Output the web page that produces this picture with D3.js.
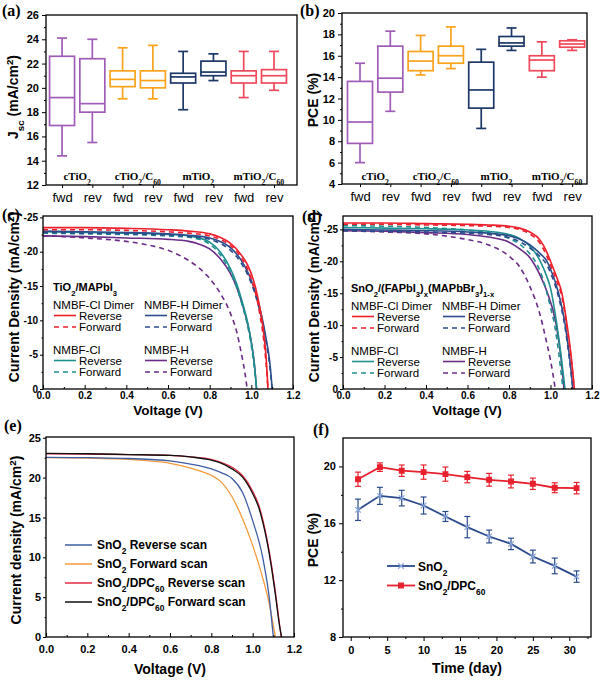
<!DOCTYPE html>
<html><head><meta charset="utf-8">
<script src="https://cdnjs.cloudflare.com/ajax/libs/d3/7.8.5/d3.min.js"></script>
<style>body{margin:0;background:#fff}</style>
</head><body>
<script>
// ================= DATA =================
// (a)/(b) box plots
const boxTicks = ["fwd","rev","fwd","rev","fwd","rev","fwd","rev"];
const boxGroups = ["cTiO_{2}","cTiO_{2}/C_{60}","mTiO_{2}","mTiO_{2}/C_{60}"];
const boxColors = ["#9f5db7","#f9a31c","#1d3868","#ef4a5c"];

const jscMin = [14.4,15.5,19.1,19.1,18.2,20.6,19.2,19.8];
const jscQ1  = [16.9,18.0,20.1,20.0,20.4,21.0,20.4,20.4];
const jscMed = [19.2,18.7,20.7,20.6,20.9,21.3,21.0,21.0];
const jscQ3  = [22.6,22.4,21.4,21.4,21.2,22.2,21.4,21.5];
const jscMax = [24.1,24.0,23.3,23.5,23.0,22.8,23.0,23.0];

const pceMin = [6.0,10.8,14.2,14.8,9.2,16.5,14.0,16.5];
const pceQ1  = [7.8,12.6,14.6,15.3,11.1,16.9,14.6,16.8];
const pceMed = [9.8,13.9,15.5,16.0,12.8,17.2,15.6,17.1];
const pceQ3  = [13.6,16.9,16.4,16.9,15.4,17.8,16.0,17.4];
const pceMax = [15.3,18.3,17.9,18.7,16.6,18.6,17.3,17.5];

// (c) TiO2/MAPbI3 J-V curves
const cClDimerV   = [0,0.2,0.4,0.6,0.7,0.8,0.85,0.9,0.95,0.98,1.0,1.02,1.04,1.06,1.07,1.08];
const cClDimerRev = [-23.5,-23.5,-23.4,-23.2,-23.0,-22.6,-22.1,-21.2,-19.6,-18.2,-16.8,-14.8,-12.0,-8.0,-5.0,0];
const cClDimerFwd = [-23.2,-23.2,-23.1,-22.9,-22.7,-22.3,-21.8,-20.9,-19.2,-17.6,-16.0,-14.0,-11.0,-7.0,-4.0,0];
const cHDimerV    = [0,0.2,0.4,0.6,0.7,0.8,0.85,0.9,0.95,0.98,1.0,1.03,1.05,1.07,1.09,1.1];
const cHDimerRev  = [-23.0,-22.9,-22.8,-22.6,-22.4,-22.0,-21.5,-20.6,-18.8,-17.2,-15.8,-13.0,-10.6,-7.5,-3.5,0];
const cHDimerFwd  = [-22.8,-22.7,-22.6,-22.4,-22.2,-21.8,-21.2,-20.2,-18.4,-16.8,-15.4,-12.6,-10.2,-7.0,-3.0,0];
const cClV        = [0,0.2,0.4,0.6,0.7,0.75,0.8,0.85,0.9,0.93,0.96,0.98,1.0,1.015,1.025];
const cClRev      = [-22.9,-22.8,-22.7,-22.5,-22.3,-22.0,-21.4,-20.0,-17.5,-15.3,-12.3,-10.0,-6.8,-3.5,0];
const cClFwd      = [-22.7,-22.6,-22.5,-22.3,-22.1,-21.8,-21.1,-19.6,-17.0,-14.8,-11.8,-9.5,-6.3,-3.0,0];
const cHRevV      = [0,0.2,0.4,0.6,0.7,0.75,0.8,0.85,0.9,0.93,0.96,0.98,1.0,1.015,1.025];
const cHRev       = [-22.3,-22.2,-22.0,-21.8,-21.5,-21.1,-20.4,-19.0,-16.8,-14.8,-12.0,-9.8,-6.8,-3.5,0];
const cHFwdV      = [0,0.1,0.2,0.3,0.4,0.5,0.6,0.7,0.75,0.8,0.85,0.9,0.93,0.95,0.97,0.98];
const cHFwd       = [-22.3,-22.2,-22.0,-21.8,-21.5,-21.0,-20.2,-18.7,-17.6,-16.1,-14.0,-11.0,-8.3,-5.5,-2.2,0];

// (d) SnO2/(FAPbI3)x(MAPbBr3)1-x J-V curves
const dClDimerV   = [0,0.2,0.4,0.6,0.7,0.8,0.85,0.9,0.95,0.98,1.0,1.03,1.055,1.08,1.1,1.115];
const dClDimerRev = [-26.0,-26.0,-25.9,-25.8,-25.7,-25.5,-25.2,-24.6,-23.3,-21.6,-20.0,-17.5,-15.0,-10.0,-5.0,0];
const dClDimerFwd = [-25.8,-25.8,-25.7,-25.6,-25.5,-25.3,-25.0,-24.3,-22.8,-21.0,-19.4,-16.9,-14.4,-9.5,-4.6,0];
const dHDimerV    = [0,0.2,0.4,0.6,0.7,0.8,0.85,0.9,0.95,0.983,1.0,1.039,1.071,1.09,1.108];
const dHDimerRev  = [-25.0,-24.9,-24.8,-24.6,-24.4,-24.0,-23.5,-22.6,-21.2,-20.0,-18.8,-15.0,-10.0,-5.5,0];
const dHDimerFwd  = [-24.8,-24.7,-24.6,-24.4,-24.2,-23.7,-23.1,-22.1,-20.7,-19.4,-18.2,-14.4,-9.5,-5.0,0];
const dClRevV     = [0,0.2,0.4,0.6,0.7,0.8,0.85,0.9,0.951,0.98,1.0,1.031,1.05,1.07];
const dClRev      = [-25.3,-25.2,-25.1,-24.9,-24.7,-24.2,-23.6,-22.4,-20.0,-17.8,-15.8,-10.0,-5.5,0];
const dClFwdV     = [0,0.2,0.4,0.6,0.7,0.8,0.85,0.9,0.927,0.96,1.0,1.02,1.04,1.06];
const dClFwd      = [-25.6,-25.5,-25.3,-24.9,-24.5,-23.6,-22.7,-21.2,-20.0,-17.6,-12.8,-10.0,-5.5,0];
const dHRevV      = [0,0.2,0.4,0.6,0.7,0.8,0.85,0.9,0.95,0.98,1.028,1.05,1.065];
const dHRev       = [-24.8,-24.7,-24.5,-24.2,-23.8,-23.0,-22.0,-20.6,-17.8,-15.5,-10.0,-5.0,0];
const dHFwdV      = [0,0.2,0.4,0.6,0.7,0.8,0.85,0.9,0.95,0.98,1.0,1.023];
const dHFwd       = [-24.8,-24.6,-24.3,-23.4,-22.6,-20.8,-19.2,-16.1,-11.6,-7.5,-4.5,0];

// (e) SnO2 vs SnO2/DPC60 J-V
const eSnRevV  = [0,0.2,0.4,0.6,0.7,0.8,0.85,0.9,0.95,1.0,1.05,1.08,1.1];
const eSnRev   = [22.55,22.5,22.4,22.1,21.7,21.1,20.6,19.9,18.2,14.6,9.8,5.0,0];
const eSnFwdV  = [0,0.2,0.4,0.5,0.6,0.7,0.75,0.8,0.85,0.9,0.95,1.0,1.05,1.08,1.11];
const eSnFwd   = [22.5,22.45,22.3,22.1,21.8,21.2,20.8,20.3,19.4,17.6,14.9,11.5,7.3,4.2,0];
const eDpcRevV = [0,0.2,0.4,0.6,0.7,0.8,0.85,0.9,0.95,1.0,1.03,1.05,1.07,1.09,1.11,1.13,1.138];
const eDpcRev  = [23.0,22.95,22.9,22.8,22.6,22.3,21.9,21.3,20.3,18.3,16.5,14.6,12.2,9.2,5.6,1.6,0];
const eDpcFwdV = [0,0.2,0.4,0.6,0.7,0.8,0.85,0.9,0.95,1.0,1.03,1.05,1.07,1.09,1.11,1.13,1.14];
const eDpcFwd  = [23.05,23.0,22.9,22.8,22.6,22.2,21.8,21.1,20.1,18.0,16.2,14.3,11.9,8.9,5.3,1.4,0];

// (f) stability
const days     = [1,4,7,10,13,16,19,22,25,28,31];
const pceSnO2  = [16.95,17.93,17.77,17.25,16.48,15.73,15.07,14.55,13.66,13.0,12.25];
const errSnO2  = [0.75,0.6,0.55,0.6,0.35,0.75,0.45,0.4,0.45,0.55,0.4];
const pceDpc   = [19.1,19.95,19.7,19.6,19.46,19.25,19.06,18.94,18.78,18.5,18.47];
const errDpc   = [0.5,0.3,0.4,0.5,0.5,0.4,0.45,0.45,0.4,0.35,0.4];

// ================= DRAWING =================
const svg = d3.select("body").append("svg").attr("width",600).attr("height",680).style("background","#fff");
const SANS = "Arial, 'Liberation Sans', Helvetica, sans-serif";
const SERIF = "'Times New Roman', 'Liberation Serif', serif";

function rich(t, s){
  s.split(/(_\{[^}]*\}|\^\{[^}]*\})/).filter(p=>p.length).forEach(p=>{
    if (p.startsWith("_{")) t.append("tspan").attr("baseline-shift","sub").attr("font-size","70%").text(p.slice(2,-1));
    else if (p.startsWith("^{")) t.append("tspan").attr("baseline-shift","super").attr("font-size","70%").text(p.slice(2,-1));
    else t.append("tspan").text(p);
  });
  return t;
}
function txt(x,y,s,size,weight,family,anchor){
  const t = svg.append("text").attr("x",x).attr("y",y).attr("fill","#000")
    .style("font-family",family||SANS).style("font-size",size+"px").style("font-weight",weight||"normal")
    .attr("text-anchor",anchor||"start");
  return rich(t,s);
}
function styleAxis(g,size,weight){
  g.select(".domain").remove();
  g.selectAll(".tick line").attr("stroke","#000").attr("stroke-width",1);
  g.selectAll(".tick text").attr("fill","#000").style("font-family",SANS).style("font-size",size+"px").style("font-weight",weight);
}
function frame(l,r,t,b){
  svg.append("rect").attr("x",l).attr("y",t).attr("width",r-l).attr("height",b-t)
    .attr("fill","none").attr("stroke","#000").attr("stroke-width",1.3);
}
function yTitle(x,y,s,size){
  const t = svg.append("text").attr("transform",`translate(${x},${y}) rotate(-90)`).attr("text-anchor","middle")
    .attr("dy","0.35em").attr("fill","#000").style("font-family",SANS).style("font-size",size+"px").style("font-weight","bold");
  rich(t,s);
}
function panelLabel(x,y,s){ txt(x,y,s,16,"bold",SERIF); }

function leftAxis(l,y,major,minor,fmt,size,weight,tick,pad){
  svg.append("g").attr("transform",`translate(${l},0)`)
    .call(d3.axisLeft(y).tickValues(major).tickSize(tick).tickPadding(pad).tickFormat(fmt))
    .call(g=>styleAxis(g,size,weight));
  if (minor) svg.append("g").attr("transform",`translate(${l},0)`)
    .call(d3.axisLeft(y).tickValues(minor).tickSize(tick/2).tickFormat(""))
    .call(g=>styleAxis(g,size,weight));
}
function bottomAxis(b,x,major,minor,fmt,size,weight,tick,pad){
  svg.append("g").attr("transform",`translate(0,${b})`)
    .call(d3.axisBottom(x).tickValues(major).tickSize(tick).tickPadding(pad).tickFormat(fmt))
    .call(g=>styleAxis(g,size,weight));
  if (minor) svg.append("g").attr("transform",`translate(0,${b})`)
    .call(d3.axisBottom(x).tickValues(minor).tickSize(tick/2).tickFormat(""))
    .call(g=>styleAxis(g,size,weight));
}

// ---------- box panels ----------
function boxPanel(o){
  const x = d3.scaleLinear().domain(o.xDom).range([o.l,o.r]);
  const y = d3.scaleLinear().domain(o.yDom).range([o.b,o.t]);
  const idx = d3.range(8);
  const g = svg.append("g");
  idx.forEach(i=>{
    const cx = x(i+1), col = boxColors[Math.floor(i/2)], bw = 25, cw = 5;
    const gg = g.append("g").attr("stroke",col).attr("stroke-width",1.7).attr("fill","none");
    gg.append("line").attr("x1",cx).attr("x2",cx).attr("y1",y(o.max[i])).attr("y2",y(o.q3[i]));
    gg.append("line").attr("x1",cx).attr("x2",cx).attr("y1",y(o.q1[i])).attr("y2",y(o.min[i]));
    gg.append("line").attr("x1",cx-cw).attr("x2",cx+cw).attr("y1",y(o.max[i])).attr("y2",y(o.max[i]));
    gg.append("line").attr("x1",cx-cw).attr("x2",cx+cw).attr("y1",y(o.min[i])).attr("y2",y(o.min[i]));
    gg.append("rect").attr("x",cx-bw/2).attr("width",bw).attr("y",y(o.q3[i])).attr("height",y(o.q1[i])-y(o.q3[i]));
    gg.append("line").attr("x1",cx-bw/2).attr("x2",cx+bw/2).attr("y1",y(o.med[i])).attr("y2",y(o.med[i]));
  });
  boxGroups.forEach((s,k)=>{
    txt((x(2*k+1)+x(2*k+2))/2, o.catY, s, 11, "bold", SERIF, "middle");
  });
  frame(o.l,o.r,o.t,o.b);
  leftAxis(o.l,y,o.yTicks,o.yMinor,d3.format("d"),11,"bold",4,3);
  bottomAxis(o.b,x,d3.range(1,9),null,i=>boxTicks[i-1],13,"normal",3,4.5);
}

boxPanel({l:46,r:297,t:15,b:185,xDom:[0.47,8.76],yDom:[12,26],
  yTicks:d3.range(12,27,2),yMinor:d3.range(13,26,2),
  min:jscMin,q1:jscQ1,med:jscMed,q3:jscQ3,max:jscMax,catY:180});
yTitle(13,97,"J_{sc} (mA/cm^{2})",14);
panelLabel(2,16,"(a)");

boxPanel({l:342,r:587,t:13,b:184,xDom:[0.406,8.49],yDom:[4,20],
  yTicks:d3.range(4,21,2),yMinor:d3.range(5,20,2),
  min:pceMin,q1:pceQ1,med:pceMed,q3:pceQ3,max:pceMax,catY:180});
yTitle(313,100,"PCE (%)",14);
panelLabel(300,16,"(b)");

// ---------- J-V panels ----------
function jvPanel(o){
  const x = d3.scaleLinear().domain([0,1.2]).range([o.l,o.r]);
  const y = d3.scaleLinear().domain(o.yDom).range([o.b,o.t]);
  const line = d3.line().x(d=>x(d[0])).y(d=>y(d[1])).curve(d3.curveMonotoneX);
  o.series.forEach(s=>{
    svg.append("path").datum(d3.zip(s.v,s.j)).attr("d",line).attr("fill","none")
      .attr("stroke",s.color).attr("stroke-width",o.sw||1.6)
      .attr("stroke-dasharray",s.dash?"5,4":null);
  });
  frame(o.l,o.r,o.t,o.b);
  leftAxis(o.l,y,o.yTicks,o.yMinor,o.yFmt,o.fs,"bold",3,2);
  bottomAxis(o.b,x,d3.range(0,1.21,0.2),d3.range(0.1,1.2,0.2),d3.format(".1f"),o.fs,"bold",-4,o.xPad);
  return {x,y};
}
const colRed="#ec1f2b", colBlue="#2b4c8c", colTeal="#1f8f8e", colPurple="#6a2c86";
const negFmt = d=> d===0 ? "0" : String(d);

function jvLegend(x0,x1,yTop,title){
  const cols=[x0,x1];
  const items=[["NMBF-Cl Dimer",colRed],["NMBF-H Dimer",colBlue],["NMBF-Cl",colTeal],["NMBF-H",colPurple]];
  txt(x0,yTop,title,11,"bold");
  items.forEach((it,k)=>{
    const cx = cols[k%2], by = yTop + 18 + (k>=2?45:0);
    txt(cx,by,it[0],11.5);
    [["Reverse",false],["Forward",true]].forEach((r,j)=>{
      const ly = by + 6.5 + j*11.5;
      svg.append("line").attr("x1",cx+1).attr("x2",cx+23).attr("y1",ly).attr("y2",ly)
        .attr("stroke",it[1]).attr("stroke-width",1.6).attr("stroke-dasharray",r[1]?"5,4":null);
      txt(cx+26,ly+4,r[0],11.5);
    });
  });
}

jvPanel({l:43,r:293,t:216,b:389,yDom:[0,-25.2],yTicks:d3.range(-25,1,5),yMinor:d3.range(-22.5,0,5),yFmt:negFmt,fs:10,xPad:3,
  series:[
    {v:cHFwdV,j:cHFwd,color:colPurple,dash:true},
    {v:cHRevV,j:cHRev,color:colPurple},
    {v:cClV,j:cClFwd,color:colTeal,dash:true},
    {v:cClV,j:cClRev,color:colTeal},
    {v:cHDimerV,j:cHDimerFwd,color:colBlue,dash:true},
    {v:cHDimerV,j:cHDimerRev,color:colBlue},
    {v:cClDimerV,j:cClDimerFwd,color:colRed,dash:true},
    {v:cClDimerV,j:cClDimerRev,color:colRed}]});
jvLegend(53,144,291,"TiO_{2}/MAPbI_{3}");
txt(168,415,"Voltage (V)",13.5,"bold",SANS,"middle");
yTitle(14,297,"Current Density (mA/cm^{2})",14);
panelLabel(2,220,"(c)");

jvPanel({l:343,r:592,t:216,b:389,yDom:[0,-27.1],yTicks:d3.range(-25,1,5),yMinor:d3.range(-22.5,0,5),yFmt:negFmt,fs:10,xPad:3,
  series:[
    {v:dHFwdV,j:dHFwd,color:colPurple,dash:true},
    {v:dHRevV,j:dHRev,color:colPurple},
    {v:dClFwdV,j:dClFwd,color:colTeal,dash:true},
    {v:dClRevV,j:dClRev,color:colTeal},
    {v:dHDimerV,j:dHDimerFwd,color:colBlue,dash:true},
    {v:dHDimerV,j:dHDimerRev,color:colBlue},
    {v:dClDimerV,j:dClDimerFwd,color:colRed,dash:true},
    {v:dClDimerV,j:dClDimerRev,color:colRed}]});
jvLegend(351,442,292,"SnO_{2}/(FAPbI_{3})_{x}(MAPbBr_{3})_{1-x}");
txt(467,415,"Voltage (V)",13.5,"bold",SANS,"middle");
yTitle(314,297,"Current Density (mA/cm^{2})",14);
panelLabel(302,222,"(d)");

// ---------- (e) ----------
const eCols = ["#3d5ea6","#f59a3c","#e42b40","#111111"];
const eNames = ["SnO_{2} Reverse scan","SnO_{2} Forward scan","SnO_{2}/DPC_{60} Reverse scan","SnO_{2}/DPC_{60} Forward scan"];
jvPanel({l:46,r:294,t:437,b:637,yDom:[0,25.1],yTicks:d3.range(0,26,5),yMinor:d3.range(2.5,25,5),yFmt:d3.format("d"),fs:11,xPad:8,sw:1.3,
  series:[
    {v:eSnFwdV,j:eSnFwd,color:eCols[1]},
    {v:eSnRevV,j:eSnRev,color:eCols[0]},
    {v:eDpcRevV,j:eDpcRev,color:eCols[2]},
    {v:eDpcFwdV,j:eDpcFwd,color:eCols[3]}]});
eNames.forEach((n,k)=>{
  const ly = 545 + k*19;
  svg.append("line").attr("x1",65).attr("x2",92).attr("y1",ly).attr("y2",ly).attr("stroke",eCols[k]).attr("stroke-width",1.5);
  txt(97,ly+4,n,12,"bold");
});
txt(170,674,"Voltage (V)",14,"bold",SANS,"middle");
yTitle(16,540,"Current density (mA/cm^{2})",14);
panelLabel(4,431,"(e)");

// ---------- (f) ----------
(function(){
  const l=343,r=591,t=438,b=637;
  const x = d3.scaleLinear().domain([-1.06,32.98]).range([l,r]);
  const y = d3.scaleLinear().domain([8,22]).range([b,t]);
  const line = d3.line().x(d=>x(d[0])).y(d=>y(d[1]));
  const series = [
    {v:pceSnO2,e:errSnO2,color:"#2b4a8c",mcol:"#8aa6dc",sym:d3.symbolTimes,size:22},
    {v:pceDpc,e:errDpc,color:"#e8212e",mcol:"#e8212e",sym:d3.symbolSquare,size:22}];
  series.forEach(s=>{
    const pts = d3.zip(days,s.v,s.e);
    svg.append("path").datum(pts).attr("d",line).attr("fill","none").attr("stroke",s.color).attr("stroke-width",1.8);
    const eg = svg.append("g").attr("stroke",s.color).attr("stroke-width",1.2);
    pts.forEach(p=>{
      const cx=x(p[0]);
      eg.append("line").attr("x1",cx).attr("x2",cx).attr("y1",y(p[1]-p[2])).attr("y2",y(p[1]+p[2]));
      eg.append("line").attr("x1",cx-3).attr("x2",cx+3).attr("y1",y(p[1]-p[2])).attr("y2",y(p[1]-p[2]));
      eg.append("line").attr("x1",cx-3).attr("x2",cx+3).attr("y1",y(p[1]+p[2])).attr("y2",y(p[1]+p[2]));
    });
    svg.append("g").selectAll("path").data(pts).join("path")
      .attr("transform",p=>`translate(${x(p[0])},${y(p[1])})`)
      .attr("d",d3.symbol(s.sym,s.size))
      .attr("fill",s.sym===d3.symbolSquare?s.mcol:"none").attr("stroke",s.mcol).attr("stroke-width",1.2);
  });
  frame(l,r,t,b);
  leftAxis(l,y,[8,12,16,20],[10,14,18],d3.format("d"),11,"bold",4,3);
  bottomAxis(b,x,d3.range(0,31,5),d3.range(2.5,33,5),d3.format("d"),11,"bold",4,5);
  const names=["SnO_{2}","SnO_{2}/DPC_{60}"];
  series.forEach((s,k)=>{
    const ly = 566 + k*19.5;
    svg.append("line").attr("x1",387).attr("x2",415).attr("y1",ly).attr("y2",ly).attr("stroke",s.color).attr("stroke-width",1.8);
    svg.append("path").attr("transform",`translate(401,${ly})`).attr("d",d3.symbol(s.sym,s.size))
      .attr("fill",s.sym===d3.symbolSquare?s.mcol:"none").attr("stroke",s.mcol).attr("stroke-width",1.2);
    txt(418,ly+4.5,names[k],12,"bold");
  });
  txt(467,673,"Time (day)",14,"bold",SANS,"middle");
  yTitle(313,540,"PCE (%)",14);
  panelLabel(313,435,"(f)");
})();
</script>
</body></html>
